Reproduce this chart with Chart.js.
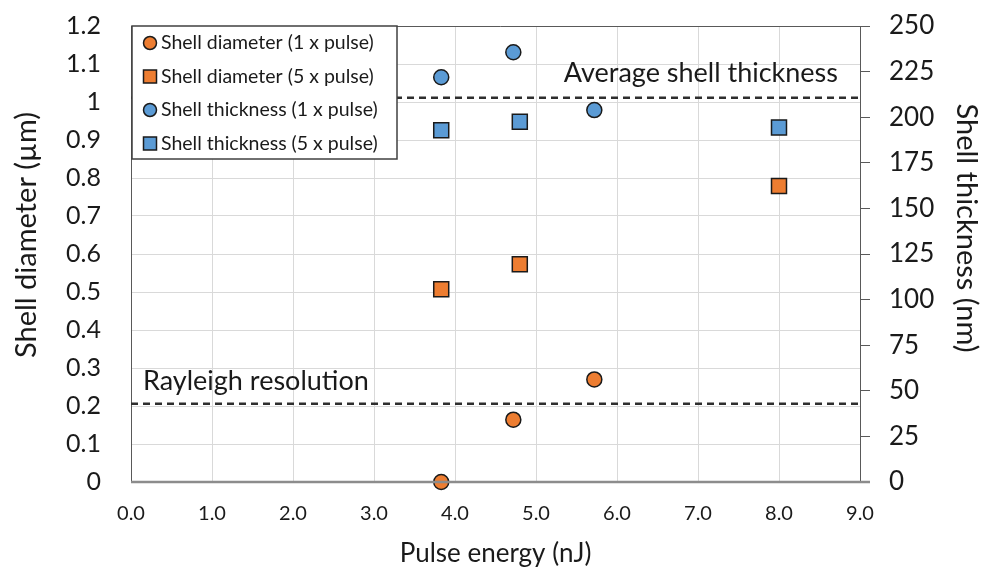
<!DOCTYPE html>
<html>
<head>
<meta charset="utf-8">
<script src="https://cdn.jsdelivr.net/npm/chart.js@4"></script>
<style>
  html, body { margin: 0; padding: 0; background: #fff; }
  #wrap { width: 982px; height: 569px; }
</style>
</head>
<body>
<div id="wrap"><canvas id="chart" width="982" height="569"></canvas></div>
<script>
// data
const diam1X = [3.83, 4.72, 5.72];
const diam1Y = [0, 0.164, 0.27];
const diam5X = [3.83, 4.80, 8.0];
const diam5Y = [0.507, 0.573, 0.779];
const thick1X = [3.83, 4.72, 5.72];
const thick1Y = [221.9, 235.6, 203.9];
const thick5X = [3.83, 4.80, 8.0];
const thick5Y = [192.9, 197.5, 194.4];

const seriesLabels = [
    'Shell diameter (1 x pulse)',
    'Shell diameter (5 x pulse)',
    'Shell thickness (1 x pulse)',
    'Shell thickness (5 x pulse)'
];

const rayleighLevel = 0.206;   // µm, left axis
const avgThickness = 210.7;    // nm, right axis
const rayleighText = 'Rayleigh resolution';
const avgText = 'Average shell thickness';
const leftTitle = 'Shell diameter (µm)';
const rightTitle = 'Shell thickness (nm)';

const ORANGE = '#ED7D31';
const BLUE = '#5B9BD5';
const FONT = 'Lato';

function pts(xs, ys) {
    return xs.map((x, i) => ({ x: x, y: ys[i] }));
}

function makeSet(label, xs, ys, color, style, axis) {
    return {
        label: label,
        data: pts(xs, ys),
        yAxisID: axis,
        backgroundColor: color,
        borderColor: '#1a1a1a',
        borderWidth: 1.5,
        pointStyle: style,
        pointRadius: style == 'rect' ? 10.6 : 7.5,
        pointHoverRadius: style == 'rect' ? 10.6 : 7.5,
        showLine: false,
        clip: false
    };
}

// fixed axis sizes so the plot box sits where the original one does
function fitWidth(w) {
    return (s) => {
        s.width = w;
        s.paddingTop = 0;
        s.paddingBottom = 0;
    };
}

// dashed reference lines, their labels, plot frame, y titles and the boxed legend
const extrasPlugin = {
    id: 'extras',
    afterDatasetsDraw(chart) {
        const ctx = chart.ctx;
        const area = chart.chartArea;
        const y = chart.scales.y;
        const y2 = chart.scales.y2;

        ctx.save();
        // frame
        ctx.strokeStyle = '#595959';
        ctx.lineWidth = 1;
        ctx.beginPath();
        ctx.moveTo(area.left, area.top + 0.5);
        ctx.lineTo(area.right + 10, area.top + 0.5);
        ctx.stroke();
        ctx.strokeStyle = '#8c8c8c';
        ctx.lineWidth = 2.5;
        ctx.beginPath();
        ctx.moveTo(area.left, area.bottom);
        ctx.lineTo(area.right + 10, area.bottom);
        ctx.stroke();

        // dashed lines
        ctx.strokeStyle = '#2e2e2e';
        ctx.lineWidth = 2.5;
        ctx.setLineDash([7, 5]);
        const yr = y.getPixelForValue(rayleighLevel);
        const ya = y2.getPixelForValue(avgThickness);
        ctx.beginPath();
        ctx.moveTo(area.left, yr);
        ctx.lineTo(area.right, yr);
        ctx.moveTo(area.left, ya);
        ctx.lineTo(area.right, ya);
        ctx.stroke();
        ctx.setLineDash([]);

        ctx.fillStyle = '#1a1a1a';
        ctx.font = '27px ' + FONT;
        ctx.textBaseline = 'alphabetic';
        ctx.textAlign = 'left';
        ctx.fillText(rayleighText, area.left + 12, yr - 14);
        ctx.textAlign = 'right';
        ctx.fillText(avgText, area.right - 22, ya - 16);

        // y axis titles (Excel puts them a bit above the middle)
        ctx.font = '29px ' + FONT;
        ctx.textAlign = 'center';
        ctx.textBaseline = 'middle';
        ctx.save();
        ctx.translate(27, 235);
        ctx.rotate(-Math.PI / 2);
        ctx.fillText(leftTitle, 0, 0);
        ctx.restore();
        ctx.save();
        ctx.translate(966, 228);
        ctx.rotate(Math.PI / 2);
        ctx.fillText(rightTitle, 0, 0);
        ctx.restore();

        // legend box
        const bx = area.left + 1, by = area.top, bw = 265, bh = 133;
        ctx.fillStyle = '#fff';
        ctx.fillRect(bx, by, bw, bh);
        ctx.strokeStyle = '#404040';
        ctx.lineWidth = 1.5;
        ctx.strokeRect(bx, by, bw, bh);
        ctx.font = '19.5px ' + FONT;
        ctx.textAlign = 'left';
        ctx.textBaseline = 'middle';
        chart.data.datasets.forEach((ds, i) => {
            const cy = by + 17 + i * 33.5;
            const cx = bx + 18;
            ctx.fillStyle = ds.backgroundColor;
            ctx.strokeStyle = '#1a1a1a';
            ctx.lineWidth = 1.5;
            ctx.beginPath();
            if (ds.pointStyle == 'rect') {
                ctx.rect(cx - 6.5, cy - 6.5, 13, 13);
            } else {
                ctx.arc(cx, cy, 6.5, 0, Math.PI * 2);
            }
            ctx.fill();
            ctx.stroke();
            ctx.fillStyle = '#1a1a1a';
            ctx.fillText(ds.label, cx + 11, cy);
        });
        ctx.restore();
    }
};

const chartdata = {
    datasets: [
        makeSet(seriesLabels[0], diam1X, diam1Y, ORANGE, 'circle', 'y'),
        makeSet(seriesLabels[1], diam5X, diam5Y, ORANGE, 'rect', 'y'),
        makeSet(seriesLabels[2], thick1X, thick1Y, BLUE, 'circle', 'y2'),
        makeSet(seriesLabels[3], thick5X, thick5Y, BLUE, 'rect', 'y2')
    ]
};

new Chart(document.getElementById('chart'), {
    type: 'scatter',
    data: chartdata,
    options: {
        responsive: false,
        animation: false,
        devicePixelRatio: 1,
        layout: { padding: { top: 26, left: 0, right: 0, bottom: 0 } },
        plugins: {
            legend: { display: false },
            tooltip: { enabled: false }
        },
        scales: {
            x: {
                type: 'linear',
                min: 0, max: 9,
                afterFit: (s) => { s.height = 87; s.paddingLeft = 0; s.paddingRight = 0; },
                ticks: {
                    stepSize: 1,
                    padding: 20,
                    color: '#1a1a1a',
                    font: { family: FONT, size: 20 },
                    callback: (v) => v.toFixed(1)
                },
                grid: { color: '#d9d9d9', drawTicks: false },
                border: { display: false },
                title: {
                    display: true,
                    text: 'Pulse energy (nJ)',
                    color: '#1a1a1a',
                    font: { family: FONT, size: 26 },
                    padding: { top: 2, bottom: 0 }
                }
            },
            y: {
                position: 'left',
                min: 0, max: 1.2,
                afterFit: fitWidth(131),
                ticks: {
                    stepSize: 0.1,
                    padding: 30,
                    color: '#1a1a1a',
                    font: { family: FONT, size: 25 },
                    callback: (v) => String(Number(v.toFixed(1)))
                },
                grid: { color: '#d9d9d9', drawTicks: false },
                border: { color: '#595959', width: 1 },
                title: { display: false }
            },
            y2: {
                position: 'right',
                min: 0, max: 250,
                afterFit: fitWidth(122),
                ticks: {
                    stepSize: 25,
                    padding: 19,
                    color: '#1a1a1a',
                    font: { family: FONT, size: 26 }
                },
                grid: { drawOnChartArea: false, drawTicks: true, tickLength: 10, color: '#595959' },
                border: { color: '#595959', width: 1 },
                title: { display: false }
            }
        }
    },
    plugins: [extrasPlugin]
});
</script>
</body>
</html>
